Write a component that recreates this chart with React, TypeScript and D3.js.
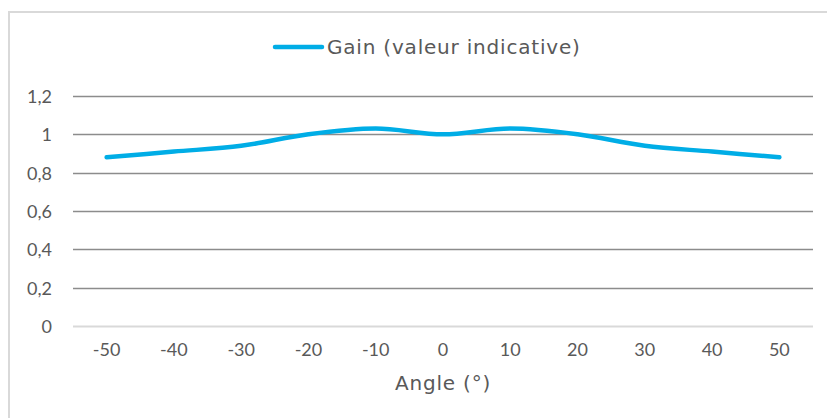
import * as d3 from 'd3'
import { FC } from 'react'

const WIDTH = 827
const HEIGHT = 418
const MARGIN = { top: 96, right: 14, bottom: 92, left: 73 }

const ANGLES = ['-50', '-40', '-30', '-20', '-10', '0', '10', '20', '30', '40', '50']
const GAIN = [0.88, 0.91, 0.94, 1.0, 1.03, 1.0, 1.03, 1.0, 0.94, 0.91, 0.88]
const Y_TICKS = [0, 0.2, 0.4, 0.6, 0.8, 1, 1.2]
const SERIES_NAME = 'Gain (valeur indicative)'
const X_TITLE = 'Angle (°)'

const LINE_COLOR = '#00ade6'
const TEXT_COLOR = '#595959'
const TITLE_FONT = '"DejaVu Sans", sans-serif'
const TICK_FONT = 'Lato, "Open Sans", sans-serif'

const App: FC = () => {
  const innerW = WIDTH - MARGIN.left - MARGIN.right
  const innerH = HEIGHT - MARGIN.top - MARGIN.bottom

  const xScale = d3.scaleBand().domain(ANGLES).range([0, innerW])
  const yScale = d3.scaleLinear().domain([0, 1.2]).range([innerH, 0])
  const xPos = (a: string) => (xScale(a) as number) + xScale.bandwidth() / 2

  const line = d3
    .line<number>()
    .x((_, i) => xPos(ANGLES[i]))
    .y((d) => yScale(d))
    .curve(d3.curveCatmullRom.alpha(0.5))

  const fmt = (v: number) => String(+v.toFixed(1)).replace('.', ',')

  return (
    <svg
      width={ WIDTH }
      height={ HEIGHT }
      style={ { position: 'absolute', left: 0, top: 0 } }
    >
      <rect x={ 0 } y={ 0 } width={ WIDTH } height={ HEIGHT } fill='white' />
      {/* chart frame, runs off the window on right and bottom */}
      <rect
        x={ 9 }
        y={ 12 }
        width={ WIDTH + 20 }
        height={ HEIGHT + 20 }
        fill='none'
        stroke='#d9d9d9'
        strokeWidth={ 2 }
      />

      {/* legend */}
      <line x1={ 275 } x2={ 322 } y1={ 47 } y2={ 47 } stroke={ LINE_COLOR } strokeWidth={ 4.5 } strokeLinecap='round' />
      <text
        x={ 327 }
        y={ 47 }
        dominantBaseline='central'
        fontFamily={ TITLE_FONT }
        fontSize={ 20 }
        letterSpacing={ 0.8 }
        fill={ TEXT_COLOR }
      >
        { SERIES_NAME }
      </text>

      <g transform={ `translate(${MARGIN.left},${MARGIN.top})` }>
        { Y_TICKS.map((t) => (
          <g key={ t }>
            <line
              x1={ 0 }
              x2={ innerW }
              y1={ Math.round(yScale(t)) + 0.5 }
              y2={ Math.round(yScale(t)) + 0.5 }
              stroke={ t === 0 ? '#d9d9d9' : '#8c8c8c' }
              strokeWidth={ t === 0 ? 2 : 1.5 }
            />
            <text
              x={ -21 }
              y={ yScale(t) }
              textAnchor='end'
              dominantBaseline='central'
              fontFamily={ TICK_FONT }
              fontSize={ 18 }
              fill={ TEXT_COLOR }
            >
              { fmt(t) }
            </text>
          </g>
        )) }

        { ANGLES.map((a) => (
          <text
            key={ a }
            x={ xPos(a) }
            y={ innerH + 23 }
            textAnchor='middle'
            dominantBaseline='central'
            fontFamily={ TICK_FONT }
            fontSize={ 18 }
            fill={ TEXT_COLOR }
          >
            { a }
          </text>
        )) }

        <path
          d={ line(GAIN) as string }
          fill='none'
          stroke={ LINE_COLOR }
          strokeWidth={ 4.5 }
          strokeLinecap='round'
          strokeLinejoin='round'
        />

        <text
          x={ innerW / 2 }
          y={ innerH + 57 }
          textAnchor='middle'
          dominantBaseline='central'
          fontFamily={ TITLE_FONT }
          fontSize={ 20 }
          letterSpacing={ 0.8 }
          fill={ TEXT_COLOR }
        >
          { X_TITLE }
        </text>
      </g>
    </svg>
  )
}

export default App
